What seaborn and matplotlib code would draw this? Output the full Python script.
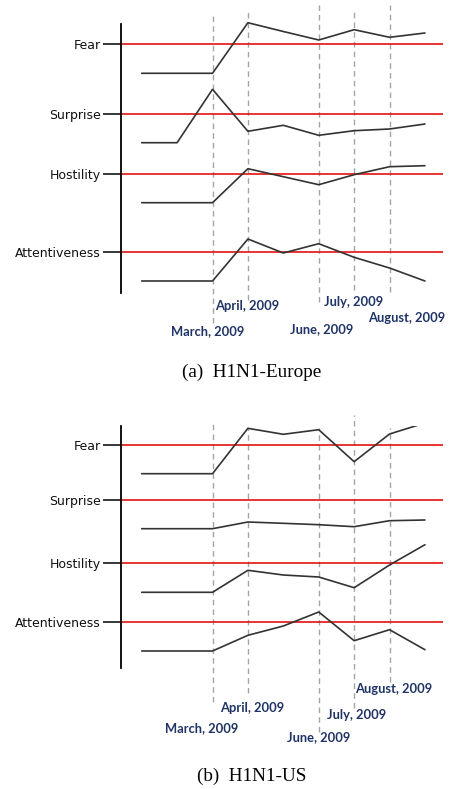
import matplotlib
matplotlib.use("Agg")
import matplotlib.pyplot as plt
import seaborn as sns
import pandas as pd

# ---------------- data ----------------
emotions = ["Fear", "Surprise", "Hostility", "Attentiveness"]
steps = [0, 1, 2, 3, 4, 5, 6, 7, 8]
month_steps = [2, 3, 5, 6, 7]
month_labels = ["March, 2009", "April, 2009", "June, 2009", "July, 2009", "August, 2009"]

# H1N1-Europe
eu_reference = [248.7, 179.0, 118.7, 40.7]
eu_fear = [219.7, 219.7, 219.7, 270.3, 261.5, 253.0, 263.3, 255.7, 260.0]
eu_surprise = [150.3, 150.3, 203.7, 161.7, 167.7, 157.7, 162.3, 164.0, 169.0]
eu_hostility = [90.3, 90.3, 90.3, 124.3, 116.3, 108.3, 118.3, 126.3, 127.3]
eu_attentiveness = [12.0, 12.0, 12.0, 54.0, 40.0, 49.3, 35.7, 25.0, 12.0]

# H1N1-US
us_reference = [222.7, 168.0, 104.7, 46.0]
us_fear = [194.3, 194.3, 194.3, 239.7, 233.7, 238.3, 206.3, 234.0, 245.0]
us_surprise = [139.3, 139.3, 139.3, 146.0, 144.7, 143.3, 141.3, 147.3, 148.0]
us_hostility = [75.7, 75.7, 75.7, 97.7, 93.0, 91.0, 80.3, 103.0, 123.3]
us_attentiveness = [17.0, 17.0, 17.0, 32.7, 42.0, 56.0, 27.3, 38.3, 18.3]

captions = ["(a)  H1N1-Europe", "(b)  H1N1-US"]

# ---------------- style ----------------
sns.set_theme(style="white")
plt.rcParams["font.family"] = ["DejaVu Sans"]

W, H = 449, 789
fig = plt.figure(figsize=(W / 100, H / 100), dpi=100)


def px_axes(left, right, top, bottom):
    return fig.add_axes([left / W, 1 - bottom / H, (right - left) / W, (bottom - top) / H])


panels = [
    dict(series=[eu_fear, eu_surprise, eu_hostility, eu_attentiveness], ref=eu_reference,
         top=20, bottom=293, ylim=273, spine_top=269,
         dash_top=[281, 283, 288, 283, 288], dash_bot=[-30, -7, -9, 3, 1],
         lab_x=[1.87, 2.97, 5.07, 5.98, 7.48], lab_y=[-38, -13, -36, -9, -25],
         cap_y=372),
    dict(series=[us_fear, us_surprise, us_hostility, us_attentiveness], ref=us_reference,
         top=426, bottom=668, ylim=242, spine_top=242,
         dash_top=[245, 240, 240, 253, 240], dash_bot=[-34, -25, -64, -40, -14],
         lab_x=[1.68, 3.13, 5.0, 6.07, 7.11], lab_y=[-60, -40, -69, -47, -21],
         cap_y=776),
]

for p, cap in zip(panels, captions):
    ax = px_axes(121, 443, p["top"], p["bottom"])
    rows = []
    for emo, vals in zip(emotions, p["series"]):
        for s, v in zip(steps, vals):
            rows.append({"emotion": emo, "step": s, "value": v})
    df = pd.DataFrame(rows)

    # dashed month markers
    for m, t, b in zip(month_steps, p["dash_top"], p["dash_bot"]):
        ax.vlines(m, b, t, colors="#a4a4a4", linestyles=(0, (4, 3)), linewidth=1.0,
                  clip_on=False, zorder=1)

    # red reference lines
    for r in p["ref"]:
        ax.axhline(r, color="#e41010", linewidth=1.2, zorder=2)

    sns.lineplot(data=df, x="step", y="value", units="emotion", estimator=None,
                 color="#333333", linewidth=1.2, ax=ax, legend=False, zorder=3)

    ax.set_xlim(-0.585, 8.51)
    ax.set_ylim(0, p["ylim"])
    ax.set_xlabel("")
    ax.set_ylabel("")
    ax.set_xticks([])
    ax.set_yticks(p["ref"])
    ax.set_yticklabels(emotions, fontsize=9, color="#111111")
    ax.tick_params(axis="y", length=13, width=1.1, color="black", pad=1.5, left=True)
    for side in ["top", "right", "bottom"]:
        ax.spines[side].set_visible(False)
    ax.spines["left"].set_color("black")
    ax.spines["left"].set_linewidth(1.3)
    ax.spines["left"].set_bounds(0, p["spine_top"])
    ax.patch.set_alpha(0)

    for lx, ly, lab in zip(p["lab_x"], p["lab_y"], month_labels):
        ax.text(lx, ly, lab, ha="center", va="center", fontsize=9.3,
                family=["Lato", "DejaVu Sans"], fontweight="bold", color="#1f3366",
                clip_on=False)

    fig.text(252 / W, 1 - p["cap_y"] / H, cap, ha="center", va="center",
             fontsize=13.8, family=["Liberation Serif", "DejaVu Serif"], color="black")

fig.savefig("out.png", dpi=100)
